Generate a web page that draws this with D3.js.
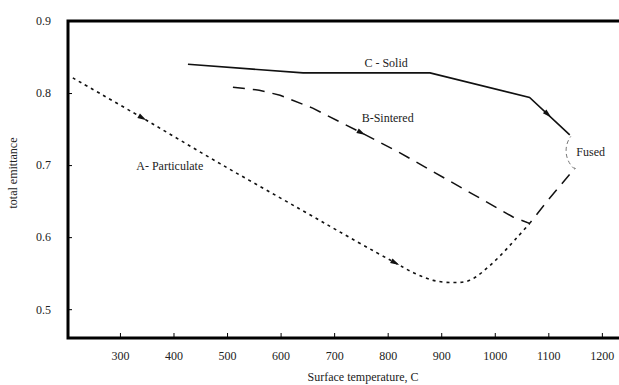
<!DOCTYPE html>
<html>
<head>
<meta charset="utf-8">
<script src="https://cdn.jsdelivr.net/npm/d3@7"></script>
<style>
  body { margin: 0; background: #fff; }
  svg text { font-family: "Liberation Serif", "Times New Roman", Tinos, "DejaVu Serif", serif; }
</style>
</head>
<body>
<svg id="chart" width="619" height="385"></svg>
<script>
// values
const aTemp = [212, 343, 487, 636, 742, 810, 850, 885, 922, 953, 996, 1041, 1065];
const aEmit = [0.821, 0.765, 0.702, 0.639, 0.594, 0.566, 0.550, 0.540, 0.537, 0.540, 0.564, 0.599, 0.619];

const bTemp = [511, 560, 599, 660, 748, 823, 1034, 1065, 1099, 1150];
const bEmit = [0.808, 0.804, 0.797, 0.779, 0.746, 0.717, 0.628, 0.619, 0.651, 0.696];

const cTemp = [427, 642, 879, 1065, 1140];
const cEmit = [0.840, 0.828, 0.828, 0.794, 0.742];

const xTicks = [300, 400, 500, 600, 700, 800, 900, 1000, 1100, 1200];
const yTicks = [0.5, 0.6, 0.7, 0.8, 0.9];

const labels = [
  {text: "A- Particulate", t: 393, e: 0.699},
  {text: "B-Sintered", t: 800, e: 0.765},
  {text: "C - Solid", t: 797, e: 0.842},
  {text: "Fused", t: 1179, e: 0.719}
];
// arrows sit on a series at a given temperature
const arrows = [
  {s: "a", t: 343}, {s: "a", t: 815}, {s: "b", t: 752}, {s: "c", t: 1100}
];
const fused = {t: 1178, e: 0.720};

const svg = d3.select("#chart");

var x = d3.scaleLinear().domain([203, 1232]).range([68, 619]);
var y = d3.scaleLinear().domain([0.46, 0.9]).range([338, 21]);

// axes, ticks pointing inward
svg.append("g")
  .attr("transform", "translate(0,338)")
  .attr("font-family", null)
  .call(d3.axisBottom(x).tickValues(xTicks).tickSize(-5).tickPadding(13).tickFormat(d3.format("d")))
  .call(g => g.select(".domain").remove())
  .call(g => g.selectAll("text").attr("font-size", 12).attr("fill", "#222"));

svg.append("g")
  .attr("transform", "translate(68,0)")
  .call(d3.axisLeft(y).tickValues(yTicks).tickSize(-4).tickPadding(17).tickFormat(d3.format(".1f")))
  .call(g => g.select(".domain").remove())
  .call(g => g.selectAll("text").attr("font-size", 12).attr("fill", "#222"));

// frame
svg.append("path")
  .attr("d", "M619,21H68V338H619")
  .attr("fill", "none")
  .attr("stroke", "#000")
  .attr("stroke-width", 3);

// axis titles
svg.append("text")
  .attr("x", 363).attr("y", 381)
  .attr("text-anchor", "middle")
  .attr("font-size", 12)
  .attr("fill", "#222")
  .text("Surface temperature, C");

svg.append("text")
  .attr("transform", "translate(17,173) rotate(-90)")
  .attr("text-anchor", "middle")
  .attr("font-size", 12)
  .attr("fill", "#222")
  .text("total emittance");

const line = d3.line().x(d => x(d[0])).y(d => y(d[1]));

const series = {
  a: d3.zip(aTemp, aEmit),
  b: d3.zip(bTemp, bEmit),
  c: d3.zip(cTemp, cEmit)
};

svg.append("path")
  .datum(series.a)
  .attr("d", line.curve(d3.curveCatmullRom))
  .attr("fill", "none").attr("stroke", "#111")
  .attr("stroke-width", 1.6).attr("stroke-dasharray", "3,4");

svg.append("path")
  .datum(series.b)
  .attr("d", line.curve(d3.curveLinear))
  .attr("fill", "none").attr("stroke", "#111")
  .attr("stroke-width", 1.5).attr("stroke-dasharray", "12,8");

svg.append("path")
  .datum(series.c)
  .attr("d", line.curve(d3.curveLinear))
  .attr("fill", "none").attr("stroke", "#111")
  .attr("stroke-width", 1.6);

// fused circle (left part only is visible)
const fp = d3.path();
fp.arc(x(fused.t), y(fused.e), 24, 2.25, 3.78);
svg.append("path")
  .attr("d", fp.toString())
  .attr("fill", "none").attr("stroke", "#777")
  .attr("stroke-width", 1).attr("stroke-dasharray", "4,3");

// arrowheads
function pointOn(pts, t) {
  for (var i = 0; i < pts.length - 1; i++) {
    if (t >= pts[i][0] && t <= pts[i + 1][0]) {
      var f = (t - pts[i][0]) / (pts[i + 1][0] - pts[i][0]);
      var px = x(t), py = y(pts[i][1] + f * (pts[i + 1][1] - pts[i][1]));
      var ang = Math.atan2(y(pts[i + 1][1]) - y(pts[i][1]), x(pts[i + 1][0]) - x(pts[i][0]));
      return [px, py, ang];
    }
  }
}

svg.append("g")
  .selectAll("path")
  .data(arrows)
  .join("path")
  .attr("d", "M4,0L-5,-2.6L-5,2.6Z")
  .attr("fill", "#111")
  .attr("transform", d => {
    var p = pointOn(series[d.s], d.t);
    return "translate(" + p[0] + "," + p[1] + ") rotate(" + (p[2] * 180 / Math.PI) + ")";
  });

// curve labels
svg.append("g")
  .selectAll("text")
  .data(labels)
  .join("text")
  .attr("x", d => x(d.t))
  .attr("y", d => y(d.e))
  .attr("dy", "0.35em")
  .attr("text-anchor", "middle")
  .attr("font-size", 12)
  .attr("fill", "#222")
  .text(d => d.text);
</script>
</body>
</html>
